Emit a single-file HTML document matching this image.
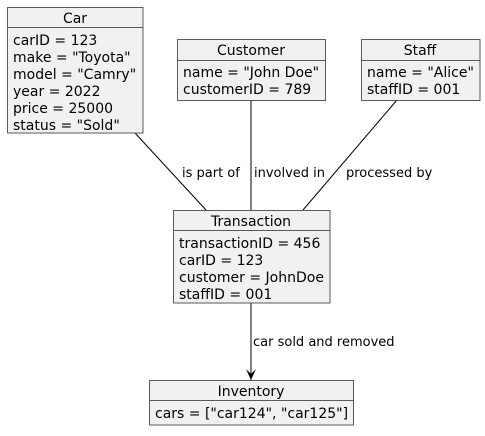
<!DOCTYPE html>
<html><head><style>
body{margin:0;background:#fff;}
svg text{font-family:"DejaVu Sans",sans-serif;fill:#000;}
</style></head><body>
<svg width="485" height="431" xmlns="http://www.w3.org/2000/svg">
<g stroke="#000" stroke-width="1" fill="none">
<line x1="135" y1="133" x2="206" y2="210"/>
<line x1="251" y1="100" x2="251" y2="210"/>
<line x1="397" y1="100" x2="303" y2="210"/>
<line x1="251" y1="303" x2="251" y2="380"/>
</g>
<polygon points="246,369 251,380 256,369 251,374" fill="#000"/>
<g fill="#f1f1f1" stroke="#5a5a5a" stroke-width="1">
<rect x="7.5" y="7.5" width="135.5" height="125.5"/>
<line x1="7.5" y1="27.5" x2="143" y2="27.5"/>
<rect x="177.5" y="39.5" width="148" height="61"/>
<line x1="177.5" y1="60.5" x2="325.5" y2="60.5"/>
<rect x="361.5" y="39.5" width="118.5" height="61"/>
<line x1="361.5" y1="60.5" x2="480" y2="60.5"/>
<rect x="173.5" y="210.5" width="156.5" height="92.5"/>
<line x1="173.5" y1="230.5" x2="330" y2="230.5"/>
<rect x="149.5" y="380.5" width="204" height="44.5"/>
<line x1="149.5" y1="400.5" x2="353.5" y2="400.5"/>
</g>
<g font-size="14">
<text x="75" y="23" text-anchor="middle">Car</text>
<text x="13" y="45">carID = 123</text>
<text x="13" y="62">make = "Toyota"</text>
<text x="13" y="79">model = "Camry"</text>
<text x="13" y="96">year = 2022</text>
<text x="13" y="113">price = 25000</text>
<text x="13" y="130">status = "Sold"</text>
<text x="251" y="55" text-anchor="middle">Customer</text>
<text x="183" y="77">name = "John Doe"</text>
<text x="183" y="94">customerID = 789</text>
<text x="420" y="55" text-anchor="middle">Staff</text>
<text x="367" y="77">name = "Alice"</text>
<text x="367" y="94">staffID = 001</text>
<text x="251" y="226" text-anchor="middle">Transaction</text>
<text x="179" y="248">transactionID = 456</text>
<text x="179" y="265">carID = 123</text>
<text x="179" y="282">customer = JohnDoe</text>
<text x="179" y="299">staffID = 001</text>
<text x="251" y="396" text-anchor="middle">Inventory</text>
<text x="155" y="418">cars = ["car124", "car125"]</text>
</g>
<g font-size="13">
<text x="182" y="177">is part of</text>
<text x="254" y="177">involved in</text>
<text x="346" y="177">processed by</text>
<text x="253" y="346">car sold and removed</text>
</g>
</svg>
</body></html>
